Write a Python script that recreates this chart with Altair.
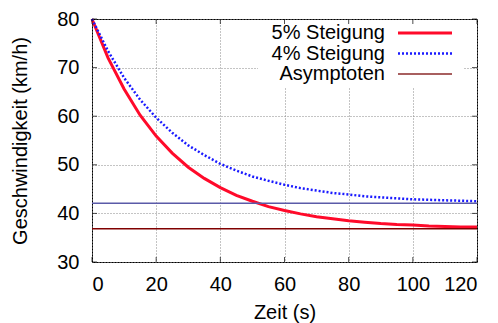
import altair as alt
import pandas as pd

# ---- data ----
t = [0, 5, 10, 15, 20, 25, 30, 35, 40, 45, 50, 55, 60, 65, 70, 75, 80, 85, 90, 95, 100, 105, 110, 115, 120]
v5 = [80.0, 72.0, 65.6, 60.2, 55.9, 52.4, 49.5, 47.2, 45.3, 43.7, 42.5, 41.4, 40.6, 39.9, 39.3,
      38.9, 38.5, 38.2, 37.9, 37.7, 37.6, 37.4, 37.3, 37.2, 37.2]
v4 = [80.0, 73.4, 67.9, 63.4, 59.7, 56.6, 54.0, 52.0, 50.2, 48.8, 47.6, 46.7, 45.9, 45.2, 44.7,
      44.2, 43.9, 43.5, 43.3, 43.1, 42.9, 42.8, 42.7, 42.6, 42.5]
asym4 = [42.1]
asym5 = [36.85]
series = ["5% Steigung", "4% Steigung", "Asymptoten"]
x_ticks = [0, 20, 40, 60, 80, 100, 120]
y_ticks = [30, 40, 50, 60, 70, 80]

FONT = "Liberation Sans"
FS = 20
W, H = 385, 243
RED = "#ff0a2a"
BLUE = "#1a1aff"
ASYM4_COL = "#5a5aa8"
ASYM5_COL = "#800000"
LEG_ASYM_COL = "#8b2a2a"

df = pd.DataFrame({"t": t, "v5": v5, "v4": v4})
xs = alt.Scale(domain=[0, 120], nice=False, zero=False)
ys = alt.Scale(domain=[30, 80], nice=False, zero=False)

x_axis = alt.Axis(values=x_ticks, title="Zeit (s)", ticks=False, domain=False,
                  labelPadding=12, titlePadding=8, grid=True)
y_axis = alt.Axis(values=y_ticks, title="Geschwindigkeit (km/h)", ticks=False, domain=False,
                  labelPadding=13, titlePadding=26, grid=True)


def X(field):
    return alt.X(field, type="quantitative", scale=xs, axis=x_axis)


def Y(field):
    return alt.Y(field, type="quantitative", scale=ys, axis=y_axis)


line5 = alt.Chart(df).mark_line(color=RED, strokeWidth=3).encode(x=X("t"), y=Y("v5"))
line4 = alt.Chart(df).mark_line(color=BLUE, strokeWidth=2.5, strokeDash=[2, 2]).encode(x=X("t"), y=Y("v4"))
rule4 = alt.Chart(pd.DataFrame({"y": asym4})).mark_rule(color=ASYM4_COL, strokeWidth=1.5).encode(y=Y("y"))
rule5 = alt.Chart(pd.DataFrame({"y": asym5})).mark_rule(color=ASYM5_COL, strokeWidth=1.5).encode(y=Y("y"))

# opaque key box (hides grid behind the key)
keybox = alt.Chart(pd.DataFrame({"a": [0]})).mark_rect(fill="white").encode(
    x=alt.value(166), x2=alt.value(371), y=alt.value(1), y2=alt.value(68))

# inward ticks on all four sides
xt = pd.DataFrame({"x": x_ticks})
yt = pd.DataFrame({"y": y_ticks})
tick_layers = []
for yy in [H - 2.5, 2.5]:
    tick_layers.append(alt.Chart(xt).mark_tick(orient="vertical", size=5, thickness=1, color="black").encode(
        x=X("x"), y=alt.value(yy)))
for xx in [2.5, W - 2.5]:
    tick_layers.append(alt.Chart(yt).mark_tick(orient="horizontal", size=5, thickness=1, color="black").encode(
        y=Y("y"), x=alt.value(xx)))

# key
leg_y = [14, 34.5, 55]
leg_styles = [
    dict(color=RED, strokeWidth=3),
    dict(color=BLUE, strokeWidth=2.5, strokeDash=[2, 2]),
    dict(color=LEG_ASYM_COL, strokeWidth=1.5),
]
key_layers = []
for lab, yy, st in zip(series, leg_y, leg_styles):
    key_layers.append(alt.Chart(pd.DataFrame({"label": [lab]})).mark_text(
        align="right", baseline="middle", font=FONT, fontSize=FS, color="black").encode(
        text="label:N", x=alt.value(293), y=alt.value(yy)))
    key_layers.append(alt.Chart(pd.DataFrame({"label": [lab]})).mark_rule(**st).encode(
        x=alt.value(306), x2=alt.value(360), y=alt.value(yy)))

chart = alt.layer(line5, line4, rule4, rule5, keybox, *tick_layers, *key_layers).properties(
    width=W, height=H,
    autosize=alt.AutoSizeParams(type="none"),
    padding={"left": 84, "top": 11, "right": 13, "bottom": 61},
    background="white",
).configure_view(stroke="black", strokeWidth=1).configure_axis(
    labelFont=FONT, titleFont=FONT, labelFontSize=FS, titleFontSize=FS,
    labelColor="black", titleColor="black", titleFontWeight="normal",
    gridColor="#888888", gridDash=[1, 2], gridWidth=1, gridOpacity=1,
)

chart.save("out.html", embed_options={"renderer": "svg", "actions": False})
